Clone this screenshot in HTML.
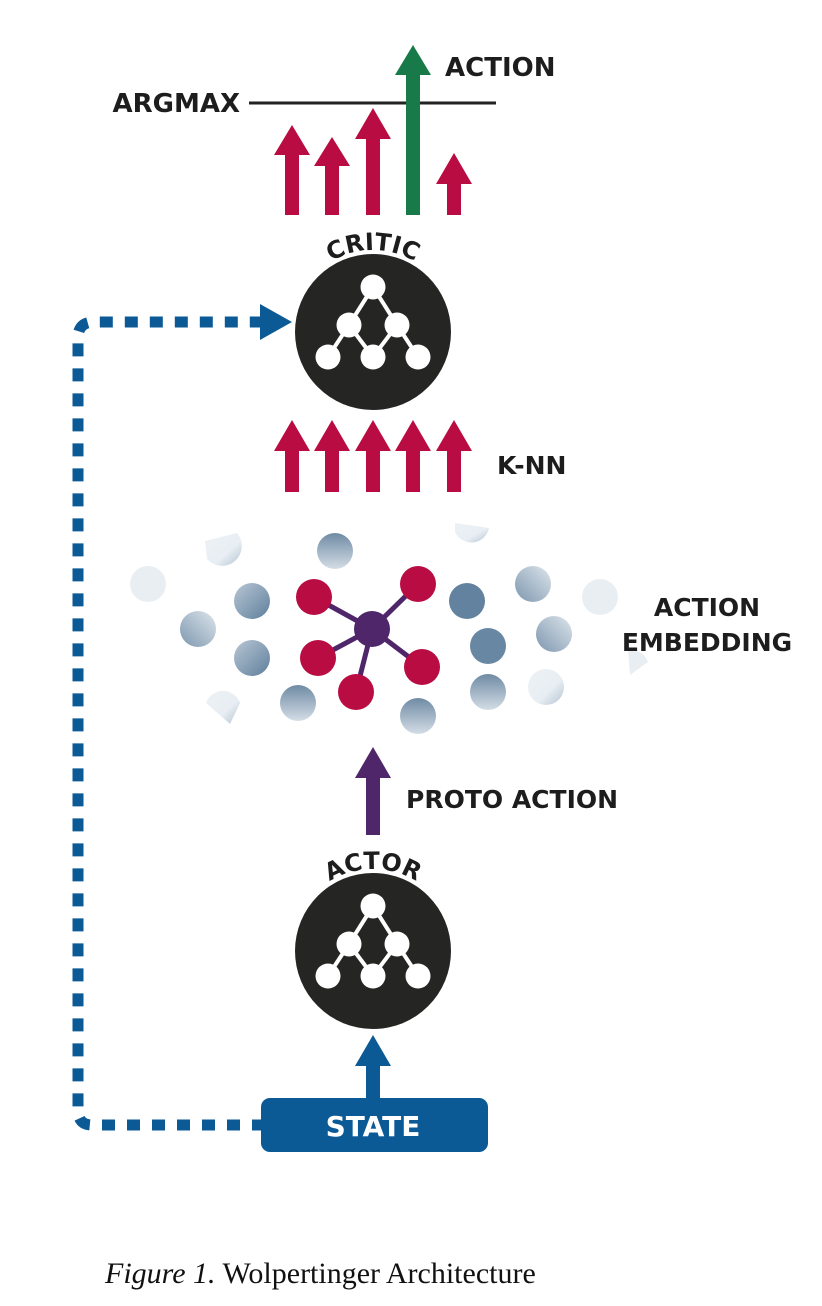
<!DOCTYPE html>
<html><head><meta charset="utf-8"><style>
html,body{margin:0;padding:0;background:#fff;}
svg{display:block;}
.t{font-family:"DejaVu Sans","Liberation Sans",sans-serif;font-weight:bold;fill:#1d1d1d;}
</style></head><body>
<svg width="822" height="1306" viewBox="0 0 822 1306" xmlns="http://www.w3.org/2000/svg">
<defs>
<linearGradient id="g1" x1="0" y1="0" x2="1" y2="1"><stop offset="0" stop-color="#b8c6d4"/><stop offset="1" stop-color="#5f7f9c"/></linearGradient>
<linearGradient id="g2" x1="1" y1="0" x2="0" y2="1"><stop offset="0" stop-color="#dde5ec"/><stop offset="1" stop-color="#7d97ae"/></linearGradient>
<linearGradient id="g3" x1="0" y1="0" x2="0" y2="1"><stop offset="0" stop-color="#6f8ba4"/><stop offset="1" stop-color="#d4dde6"/></linearGradient>
<linearGradient id="g4" x1="0" y1="0" x2="1" y2="1"><stop offset="0" stop-color="#edf1f5"/><stop offset="0.6" stop-color="#e8eef3"/><stop offset="1" stop-color="#b3c3d1"/></linearGradient>
<g id="net">
<g stroke="#fff" stroke-width="4" fill="none">
<line x1="0" y1="-46" x2="-24" y2="-8"/><line x1="0" y1="-46" x2="24" y2="-8"/>
<line x1="-24" y1="-8" x2="-45" y2="24"/><line x1="-24" y1="-8" x2="0" y2="24"/>
<line x1="24" y1="-8" x2="0" y2="24"/><line x1="24" y1="-8" x2="45" y2="24"/>
</g>
<g fill="#fff"><circle cx="0" cy="-46" r="12.5"/><circle cx="-24" cy="-8" r="12.5"/><circle cx="24" cy="-8" r="12.5"/><circle cx="-45" cy="24" r="12.5"/><circle cx="0" cy="24" r="12.5"/><circle cx="45" cy="24" r="12.5"/></g>
</g>
<path id="arcC" d="M 291 332 A 82 82 0 0 1 455 332"/>
<path id="arcA" d="M 291 951 A 82 82 0 0 1 455 951"/>
</defs>

<!-- dashed feedback -->
<g stroke="#0b5a96" stroke-width="11" fill="none" stroke-dasharray="13 12">
<path d="M 265 1125 L 92 1125 Q 78 1125 78 1110 L 78 338 Q 78 322 94 322 L 262 322"/>
</g>
<polygon points="292,322 260,304 260,340" fill="#0b5a96"/>

<!-- top arrows -->
<line x1="249" y1="103" x2="496" y2="103" stroke="#222" stroke-width="3"/>
<g fill="#b80c42">
<rect x="285" y="153" width="14" height="62"/><polygon points="292,125 274,155 310,155"/>
<rect x="325" y="163" width="14" height="52"/><polygon points="332,137 314,166 350,166"/>
<rect x="366" y="136" width="14" height="79"/><polygon points="373,108 355,139 391,139"/>
<rect x="447" y="181" width="14" height="34"/><polygon points="454,153 436,184 472,184"/>
</g>
<g fill="#197a49"><rect x="406" y="72" width="14" height="143"/><polygon points="413,45 395,75 431,75"/></g>
<text class="t" x="240" y="112" font-size="26" text-anchor="end">ARGMAX</text>
<text class="t" x="445" y="76" font-size="26">ACTION</text>

<!-- critic -->
<circle cx="373" cy="332" r="78" fill="#252523"/>
<use href="#net" x="373" y="333"/>
<text class="t" font-size="24"><textPath href="#arcC" startOffset="50%" text-anchor="middle">CRITIC</textPath></text>

<!-- KNN arrows -->
<g fill="#b80c42">
<rect x="285" y="448" width="14" height="44"/><polygon points="292,420 274,451 310,451"/>
<rect x="325" y="448" width="14" height="44"/><polygon points="332,420 314,451 350,451"/>
<rect x="366" y="448" width="14" height="44"/><polygon points="373,420 355,451 391,451"/>
<rect x="406" y="448" width="14" height="44"/><polygon points="413,420 395,451 431,451"/>
<rect x="447" y="448" width="14" height="44"/><polygon points="454,420 436,451 472,451"/>
</g>
<text class="t" x="497" y="474" font-size="25">K-NN</text>

<!-- embedding -->
<g>
<circle cx="148" cy="584" r="18" fill="#e9eef3"/>
<path d="M205,541 L237,533 A18,18 0 0 1 207,559 Z" fill="url(#g4)"/>
<path d="M455,523 L489,528 A18,18 0 0 1 455,532 Z" fill="url(#g4)"/>
<circle cx="335" cy="551" r="18" fill="url(#g3)"/>
<circle cx="252" cy="601" r="18" fill="url(#g1)"/>
<circle cx="198" cy="629" r="18" fill="url(#g2)"/>
<circle cx="252" cy="658" r="18" fill="url(#g1)"/>
<path d="M206,703 A18,18 0 0 1 240,703 L230,724 Z" fill="url(#g4)"/>
<circle cx="298" cy="703" r="18" fill="url(#g3)"/>
<circle cx="418" cy="716" r="18" fill="url(#g3)"/>
<circle cx="488" cy="692" r="18" fill="url(#g3)"/>
<circle cx="546" cy="687" r="18" fill="url(#g4)"/>
<circle cx="488" cy="646" r="18" fill="#6787a3"/>
<circle cx="467" cy="601" r="18" fill="#6282a0"/>
<circle cx="533" cy="584" r="18" fill="url(#g2)"/>
<circle cx="554" cy="634" r="18" fill="url(#g2)"/>
<circle cx="600" cy="597" r="18" fill="#e9eef3"/>
<path d="M628,650 A18,18 0 0 1 648,662 L630,675 Z" fill="#e9eef3"/>
</g>
<g stroke="#4f2669" stroke-width="5">
<line x1="372" y1="629" x2="314" y2="597"/><line x1="372" y1="629" x2="418" y2="584"/>
<line x1="372" y1="629" x2="318" y2="658"/><line x1="372" y1="629" x2="422" y2="667"/>
<line x1="372" y1="629" x2="356" y2="692"/>
</g>
<g fill="#b80c42">
<circle cx="314" cy="597" r="18"/><circle cx="418" cy="584" r="18"/><circle cx="318" cy="658" r="18"/><circle cx="422" cy="667" r="18"/><circle cx="356" cy="692" r="18"/>
</g>
<circle cx="372" cy="629" r="18" fill="#4f2669"/>
<text class="t" x="707" y="616" font-size="25" text-anchor="middle">ACTION</text>
<text class="t" x="707" y="651" font-size="25" text-anchor="middle">EMBEDDING</text>

<!-- proto action -->
<g fill="#4f2669"><rect x="366" y="775" width="14" height="60"/><polygon points="373,747 355,778 391,778"/></g>
<text class="t" x="406" y="808" font-size="25">PROTO ACTION</text>

<!-- actor -->
<circle cx="373" cy="951" r="78" fill="#252523"/>
<use href="#net" x="373" y="952"/>
<text class="t" font-size="24"><textPath href="#arcA" startOffset="50%" text-anchor="middle">ACTOR</textPath></text>

<!-- state -->
<g fill="#0b5a96"><rect x="366" y="1062" width="14" height="40"/><polygon points="373,1035 355,1066 391,1066"/></g>
<rect x="261" y="1098" width="227" height="54" rx="9" fill="#0b5a96"/>
<text x="373" y="1136" font-size="28" text-anchor="middle" font-family="DejaVu Sans, Liberation Sans, sans-serif" font-weight="bold" fill="#fff">STATE</text>

<text x="105" y="1283" font-size="30" font-family="Liberation Serif, serif" fill="#111"><tspan font-style="italic">Figure 1.</tspan> Wolpertinger Architecture</text>
</svg>
</body></html>
